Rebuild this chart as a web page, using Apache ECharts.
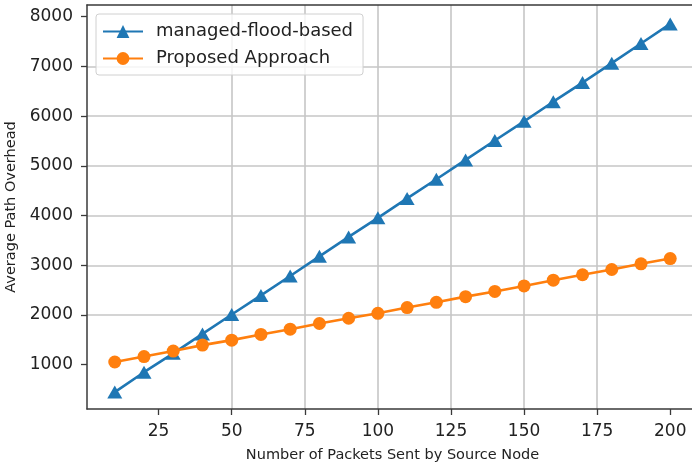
<!DOCTYPE html>
<html>
<head>
<meta charset="utf-8">
<script src="https://cdn.jsdelivr.net/npm/echarts@6/dist/echarts.min.js"></script>
<style>
html,body{margin:0;padding:0;background:#fff;}
#chart{width:692px;height:467px;}
</style>
</head>
<body>
<div id="chart"></div>
<script>
var packets = [10,20,30,40,50,60,70,80,90,100,110,120,130,140,150,160,170,180,190,200];
var managedFlood = [450,850,1230,1620,2010,2395,2785,3180,3570,3955,4345,4730,5120,5510,5895,6290,6675,7065,7460,7855];
var proposed = [1055,1165,1275,1395,1495,1610,1715,1830,1935,2035,2150,2255,2370,2475,2585,2700,2810,2915,3030,3135];
var xTicks = [25,50,75,100,125,150,175,200];
var yTicks = [1000,2000,3000,4000,5000,6000,7000,8000];
var seriesNames = ['managed-flood-based','Proposed Approach'];

function pairs(xs, ys){ return xs.map(function(x,i){ return [x, ys[i]]; }); }

var chart = echarts.init(document.getElementById('chart'), null, {renderer:'canvas'});
var font = 'DejaVu Sans';
chart.setOption({
  animation:false,
  backgroundColor:'#fff',
  grid:{left:87, top:5, right:-6, bottom:58, show:false, containLabel:false, outerBoundsMode:'none'},
  legend:{
    orient:'vertical', left:96, top:14,
    itemWidth:40, itemHeight:16, itemGap:6,
    padding:[7,10,6,6],
    backgroundColor:'rgba(255,255,255,0.8)', borderColor:'#d0d0d0', borderWidth:1, borderRadius:3,
    textStyle:{fontFamily:font, fontSize:18, color:'#222', lineHeight:21, padding:[0,0,0,8]},
    data:seriesNames
  },
  xAxis:[{
    type:'value', min:0.5, max:209.5,
    name:'Number of Packets Sent by Source Node', nameLocation:'middle', nameGap:39,
    nameTextStyle:{fontFamily:font, fontSize:14.5, color:'#222'},
    axisLine:{show:true, onZero:false, lineStyle:{color:'#3a3a3a', width:1.5}},
    axisTick:{show:true, length:6, lineStyle:{color:'#3a3a3a', width:1.3}, customValues:xTicks},
    axisLabel:{fontFamily:font, fontSize:17, color:'#222', margin:14, customValues:xTicks, formatter:function(v){return String(v);}},
    splitLine:{show:true, showMinLine:false, showMaxLine:false, lineStyle:{color:'#c6c6c6', width:1.6}}
  },{
    type:'value', min:0.5, max:209.5, position:'top',
    axisLine:{show:true, onZero:false, lineStyle:{color:'#3a3a3a', width:1.5}},
    axisTick:{show:false}, axisLabel:{show:false}, splitLine:{show:false}
  }],
  yAxis:{
    type:'value', min:110, max:8235,
    name:'Average Path Overhead', nameLocation:'middle', nameGap:66, nameRotate:90,
    nameTextStyle:{fontFamily:font, fontSize:14.5, color:'#222'},
    axisLine:{show:true, lineStyle:{color:'#3a3a3a', width:1.5}},
    axisTick:{show:true, length:6, lineStyle:{color:'#3a3a3a', width:1.3}, customValues:yTicks},
    axisLabel:{fontFamily:font, fontSize:17, color:'#222', margin:14, customValues:yTicks, formatter:function(v){return String(v);}},
    splitLine:{show:true, showMinLine:false, showMaxLine:false, lineStyle:{color:'#c6c6c6', width:1.6}}
  },
  series:[
    {name:seriesNames[0], type:'line', data:pairs(packets, managedFlood), symbol:'triangle', symbolSize:[15,13],
     itemStyle:{color:'#1f77b4'}, lineStyle:{color:'#1f77b4', width:2.6}, z:2},
    {name:seriesNames[1], type:'line', data:pairs(packets, proposed), symbol:'circle', symbolSize:13,
     itemStyle:{color:'#ff7f0e'}, lineStyle:{color:'#ff7f0e', width:2.6}, z:3}
  ]
});
</script>
</body>
</html>
